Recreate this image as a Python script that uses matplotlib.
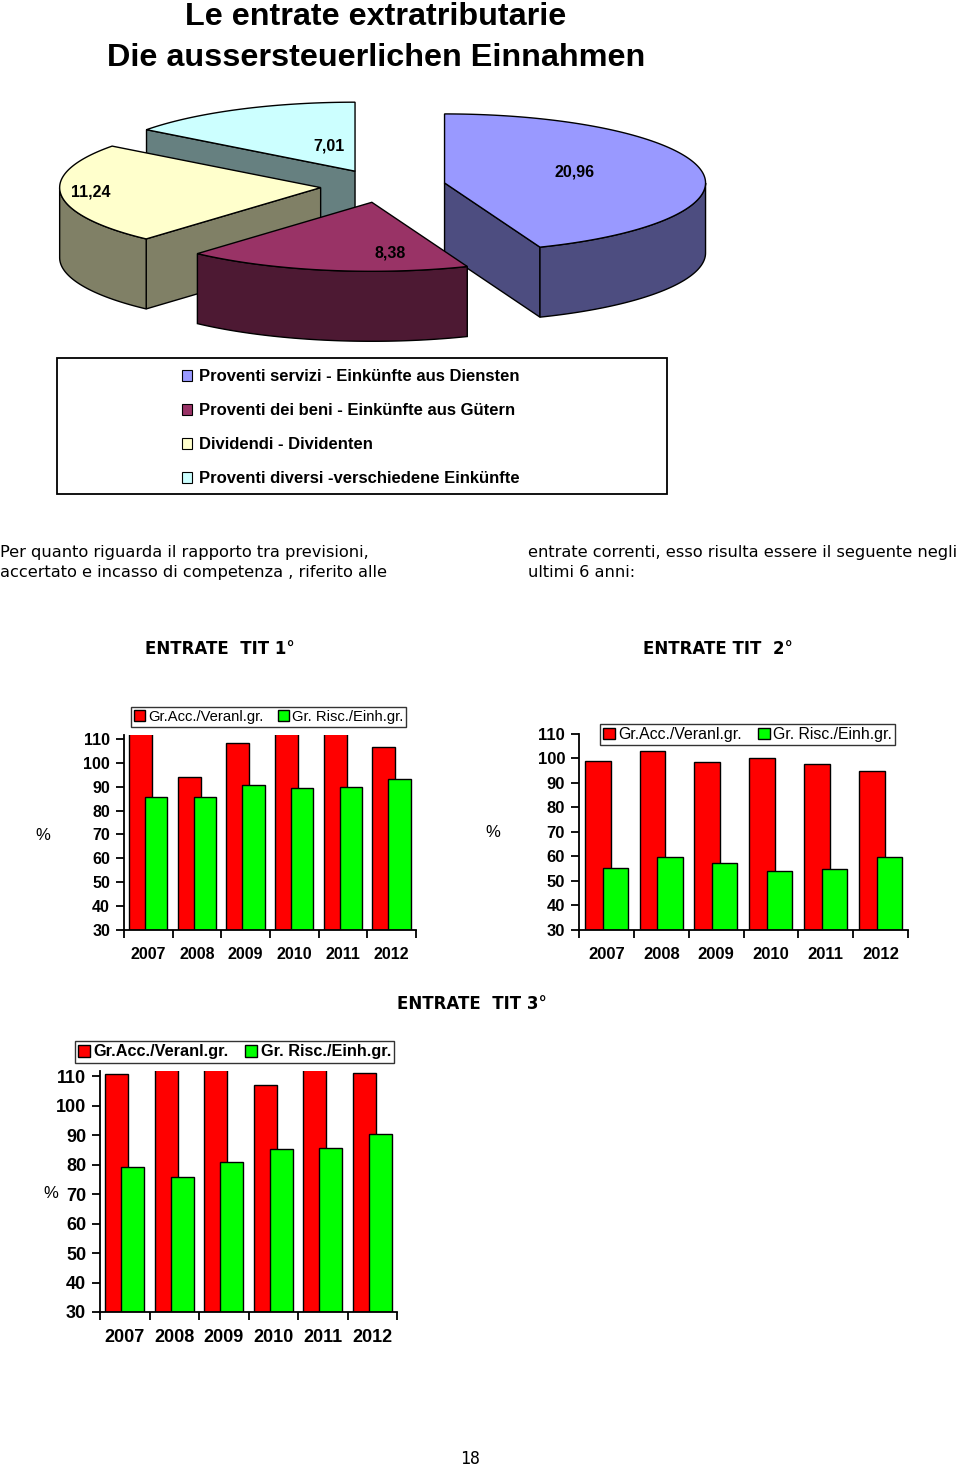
import numpy as np
import matplotlib.pyplot as plt
from matplotlib.patches import Polygon, Rectangle, Patch

# torta: proventi extratributari
voci = ['Proventi servizi - Einkünfte aus Diensten',
        'Proventi dei beni - Einkünfte aus Gütern',
        'Dividendi - Dividenten',
        'Proventi diversi -verschiedene Einkünfte']
valori = [20.96, 8.38, 11.24, 7.01]
etichette = ['20,96', '8,38', '11,24', '7,01']
colori = ['#9999FF', '#993366', '#FFFFCC', '#CCFFFF']
colori_lato = ['#4D4D80', '#4D1933', '#808066', '#668080']
# posizione etichette rispetto al centro della fetta (unita' ellisse)
pos_etichette = [(0.50, -0.16), (0.07, 0.74), (-0.88, 0.07), (-0.10, -0.37)]

# barre: Gr.Acc./Veranl.gr. e Gr. Risc./Einh.gr.
anni = ['2007', '2008', '2009', '2010', '2011', '2012']
acc_tit1 = [113, 94, 108.4, 113, 113, 106.4]
risc_tit1 = [85.5, 85.5, 90.5, 89.3, 89.8, 93]
acc_tit2 = [99.1, 102.9, 98.6, 100.3, 97.9, 94.7]
risc_tit2 = [55.5, 59.8, 57.2, 54.1, 54.8, 59.8]
acc_tit3 = [110.7, 113, 113, 107, 113, 111.1]
risc_tit3 = [79.2, 75.7, 80.9, 85.2, 85.8, 90.4]
serie = ['Gr.Acc./Veranl.gr.', 'Gr. Risc./Einh.gr.']

W, H = 960, 1469
fig = plt.figure(figsize=(W / 100, H / 100), dpi=100)
bg = fig.add_axes([0, 0, 1, 1])
bg.set_xlim(0, W)
bg.set_ylim(H, 0)
bg.axis('off')

ARIAL = 'Liberation Sans'
DJ = 'DejaVu Sans'

# titolo
bg.text(376, 17, 'Le entrate extratributarie', ha='center', va='center',
        fontsize=23.3, fontweight='bold', family=ARIAL)
bg.text(376, 58, 'Die aussersteuerlichen Einnahmen', ha='center', va='center',
        fontsize=23.3, fontweight='bold', family=ARIAL)


# ---- torta 3D ----
def punto(ox, oy, rx, ry, t):
    t = np.radians(t)
    return ox + rx * np.cos(t), oy - ry * np.sin(t)


cx, cy, rx, ry, prof, espl = 383, 186, 261, 69, 70, 0.24
tot = sum(valori)
fette = []
a1 = 90.0
for i, v in enumerate(valori):
    a0 = a1 - v / tot * 360
    mid = np.radians((a0 + a1) / 2)
    ox = cx + espl * rx * np.cos(mid)
    oy = cy - espl * ry * np.sin(mid)
    fette.append((i, a0, a1, ox, oy))
    a1 = a0

for z, (i, a0, a1, ox, oy) in enumerate(sorted(fette, key=lambda f: f[4])):
    zb = 2 + z * 3
    tt = np.linspace(a0, a1, 200)
    xs, ys = punto(ox, oy, rx, ry, tt)
    # pareti radiali visibili
    for a, vis in ((a0, np.cos(np.radians(a0)) > 0.01), (a1, np.cos(np.radians(a1)) < -0.01)):
        if vis:
            px_, py_ = punto(ox, oy, rx, ry, a)
            bg.add_patch(Polygon([(ox, oy), (px_, py_), (px_, py_ + prof), (ox, oy + prof)],
                                 closed=True, fc=colori_lato[i], ec='black', lw=1, zorder=zb))
    # parete esterna frontale
    m = np.sin(np.radians(tt)) <= 0
    if m.sum() > 1:
        fx, fy = xs[m], ys[m]
        pts = list(zip(fx, fy)) + list(zip(fx[::-1], fy[::-1] + prof))
        bg.add_patch(Polygon(pts, closed=True, fc=colori_lato[i], ec='black', lw=1, zorder=zb + 1))
    # faccia superiore
    pts = [(ox, oy)] + list(zip(xs, ys))
    bg.add_patch(Polygon(pts, closed=True, fc=colori[i], ec='black', lw=1, zorder=zb + 2))
    ux, uy = pos_etichette[i]
    bg.text(ox + ux * rx, oy + uy * ry, etichette[i], ha='center', va='center',
            fontsize=11.5, fontweight='bold', family=ARIAL, zorder=20)

# legenda torta
bg.add_patch(Rectangle((57, 358), 610, 136, fc='white', ec='black', lw=1.3, zorder=1))
handles = [Patch(fc=colori[i], ec='black', lw=0.8) for i in range(len(voci))]
fig.legend(handles, voci, loc='upper left', bbox_to_anchor=(182 / W, 1 - 369 / H),
           frameon=False, prop={'family': ARIAL, 'weight': 'bold', 'size': 12},
           handlelength=0.62, handleheight=0.62, handletextpad=0.4,
           labelspacing=1.14, borderpad=0, borderaxespad=0)

# testo
par = [(0, 552, 'Per quanto riguarda il rapporto tra previsioni,'),
       (0, 572, 'accertato e incasso di competenza , riferito alle'),
       (528, 552, 'entrate correnti, esso risulta essere il seguente negli'),
       (528, 572, 'ultimi 6 anni:')]
for x, y, s in par:
    bg.text(x, y, s, ha='left', va='center', fontsize=11.7, family=DJ)

for x, y, s in [(145, 649, 'ENTRATE  TIT 1°'), (643, 649, 'ENTRATE TIT  2°'),
                (397, 1004, 'ENTRATE  TIT 3°')]:
    bg.text(x, y, s, ha='left', va='center', fontsize=12, fontweight='bold', family=DJ)

bg.text(470, 1459, '18', ha='center', va='center', fontsize=12, family='DejaVu Sans Mono')


# ---- grafici a barre ----
def barre(left, right, top, bottom, ytop, acc, risc, leg_xy, fam, wt, fs, legfs, legwt, perc_xy):
    ax = fig.add_axes([left / W, 1 - bottom / H, (right - left) / W, (bottom - top) / H])
    x = np.arange(len(anni))
    ax.bar(x - 0.16, [v - 30 for v in acc], 0.47, bottom=30, color='#FF0000',
           ec='black', lw=1, label=serie[0], zorder=2)
    ax.bar(x + 0.16, [v - 30 for v in risc], 0.46, bottom=30, color='#00FF00',
           ec='black', lw=1, label=serie[1], zorder=3)
    ax.set_xlim(-0.5, len(anni) - 0.5)
    ax.set_ylim(30, ytop)
    for s in ('top', 'right'):
        ax.spines[s].set_visible(False)
    for s in ('left', 'bottom'):
        ax.spines[s].set_linewidth(1.3)
        ax.spines[s].set_zorder(5)
    ax.set_yticks(range(30, 111, 10))
    ax.set_xticks(np.arange(-0.5, len(anni), 1.0))
    ax.set_xticklabels([])
    ax.set_xticks(x, minor=True)
    ax.set_xticklabels(anni, minor=True)
    ax.tick_params(axis='x', which='major', direction='out', length=6, width=1.3)
    ax.tick_params(axis='x', which='minor', length=0, pad=12)
    ax.tick_params(axis='y', direction='out', length=6, width=1.3, pad=4)
    for lab in ax.get_yticklabels() + ax.get_xticklabels(minor=True):
        lab.set_family(fam)
        lab.set_fontweight(wt)
        lab.set_fontsize(fs)
    ax.patch.set_alpha(0)
    leg = ax.legend(loc='upper left', bbox_to_anchor=(leg_xy[0] / W, 1 - leg_xy[1] / H),
                    bbox_transform=fig.transFigure, ncol=2, fancybox=False,
                    prop={'family': fam, 'weight': legwt, 'size': legfs},
                    handlelength=0.75, handleheight=0.75, handletextpad=0.2,
                    columnspacing=1.0, borderpad=0.2, borderaxespad=0)
    leg.get_frame().set_edgecolor('black')
    leg.get_frame().set_linewidth(1)
    leg.set_zorder(10)
    bg.text(perc_xy[0], perc_xy[1], '%', ha='center', va='center', fontsize=12, family=ARIAL)
    return ax


barre(124, 416, 735, 930, 111.6, acc_tit1, risc_tit1, (131, 707),
      ARIAL, 'bold', 11.5, 10.6, 'normal', (43, 835))
barre(579, 908, 734, 930, 110, acc_tit2, risc_tit2, (600, 724),
      ARIAL, 'bold', 12, 11.4, 'normal', (493, 832))
barre(100, 397, 1071, 1312, 111.8, acc_tit3, risc_tit3, (75, 1041),
      ARIAL, 'bold', 13, 11.7, 'bold', (51, 1193))

fig.savefig('out.png', dpi=100)
